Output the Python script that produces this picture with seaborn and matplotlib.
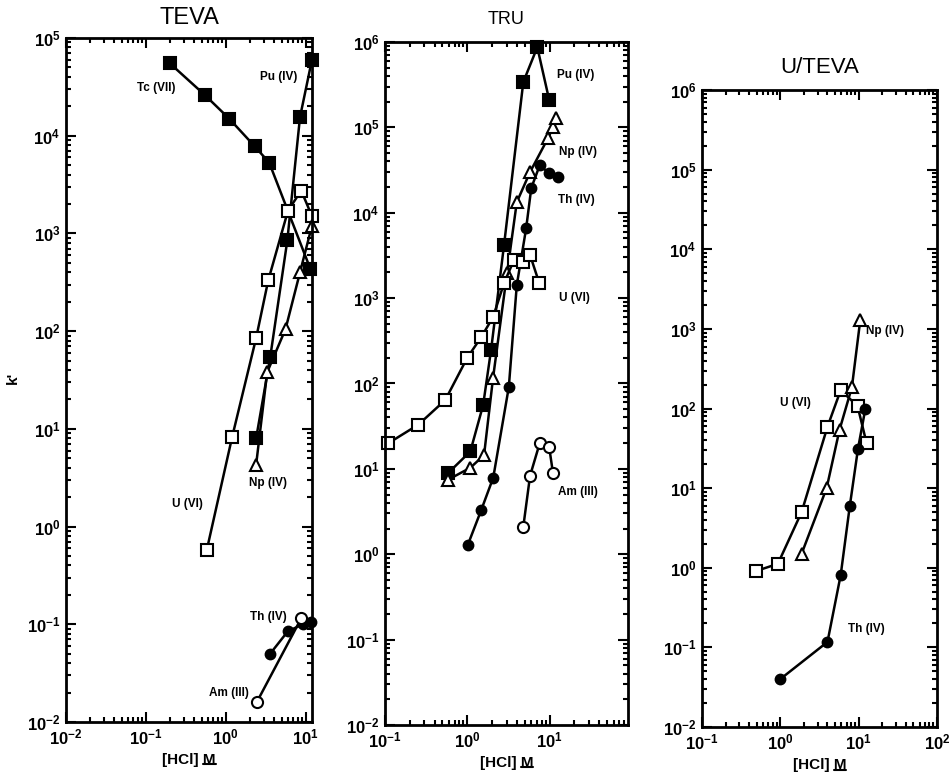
import numpy as np
import pandas as pd
import matplotlib
matplotlib.use("Agg")
import matplotlib.pyplot as plt
import matplotlib.ticker as mticker
from matplotlib.lines import Line2D
import seaborn as sns

# ---------------- data ----------------
# TEVA
teva_tc_x = [0.2, 0.55, 1.1, 2.3, 3.5, 11.5]
teva_tc_y = [55000, 26000, 15000, 7800, 5300, 430]
teva_pu_x = [2.4, 3.6, 5.9, 8.5, 12.0]
teva_pu_y = [8, 54, 850, 15500, 60000]
teva_u_x = [0.58, 1.2, 2.4, 3.4, 6.0, 8.8, 12.0]
teva_u_y = [0.58, 8.2, 85, 330, 1700, 2750, 1500]
teva_np_x = [2.4, 3.3, 5.6, 8.5, 12.0]
teva_np_y = [4.3, 38, 105, 400, 1200]
teva_th_x = [3.6, 6.0, 9.3, 11.8]
teva_th_y = [0.05, 0.085, 0.1, 0.105]
teva_am_x = [2.45, 8.8]
teva_am_y = [0.016, 0.115]

# TRU
tru_pu_x = [0.59, 1.09, 1.56, 1.95, 2.8, 4.8, 7.1, 9.9]
tru_pu_y = [9, 16, 56, 250, 4200, 340000, 870000, 210000]
tru_np_x = [0.59, 1.09, 1.6, 2.06, 3.05, 4.0, 5.8, 9.6, 11.0, 12.0]
tru_np_y = [7.5, 10.3, 14.5, 117, 1980, 13300, 30000, 75000, 100000, 130000]
tru_th_x = [1.02, 1.48, 2.07, 3.2, 4.0, 5.2, 6.0, 7.6, 9.9, 12.7]
tru_th_y = [1.3, 3.3, 7.9, 91, 1420, 6600, 19500, 36000, 29000, 26000]
tru_u_x = [0.11, 0.255, 0.54, 1.0, 1.48, 2.06, 2.8, 3.7, 4.8, 5.8, 7.5]
tru_u_y = [20, 33, 64, 200, 350, 600, 1500, 2800, 2650, 3200, 1500]
tru_am_x = [4.8, 5.8, 7.6, 9.9, 11.0]
tru_am_y = [2.1, 8.3, 20, 18, 9]

# U/TEVA
ut_u_x = [0.49, 0.93, 1.87, 4.0, 5.9, 9.7, 12.6]
ut_u_y = [0.91, 1.12, 5, 59, 170, 107, 37]
ut_np_x = [1.87, 3.9, 5.7, 8.2, 10.5]
ut_np_y = [1.5, 10, 54, 185, 1300]
ut_th_x = [1.0, 4.0, 5.9, 7.7, 9.8, 12.2]
ut_th_y = [0.04, 0.117, 0.81, 5.9, 31, 100]

panel_titles = ["TEVA", "TRU", "U/TEVA"]
x_label = "[HCl] M"
y_label = "k'"

# ---------------- style ----------------
sns.set_style("ticks")
plt.rcParams['font.family'] = ['Liberation Sans', 'DejaVu Sans']
plt.rcParams['font.weight'] = 'bold'
plt.rcParams['mathtext.fontset'] = 'custom'
plt.rcParams['mathtext.rm'] = 'Liberation Sans:bold'
plt.rcParams['mathtext.it'] = 'Liberation Sans:bold'
plt.rcParams['mathtext.bf'] = 'Liberation Sans:bold'
plt.rcParams['mathtext.default'] = 'rm'
for k in ('text.color', 'axes.labelcolor', 'xtick.color', 'ytick.color', 'axes.edgecolor'):
    plt.rcParams[k] = 'black'

fig = plt.figure(figsize=(9.52, 7.84), dpi=100)
fig.patch.set_facecolor('white')

ax1 = fig.add_axes([0.0693, 0.0791, 0.2584, 0.8724])
ax2 = fig.add_axes([0.4044, 0.0753, 0.2553, 0.8711])
ax3 = fig.add_axes([0.7374, 0.0727, 0.2468, 0.8125])


def series(ax, x, y, marker, filled, ms):
    df = pd.DataFrame({"x": x, "y": y})
    sns.lineplot(data=df, x="x", y="y", ax=ax, color="black", lw=1.8,
                 marker=marker, markersize=ms,
                 markerfacecolor=("black" if filled else "white"),
                 markeredgecolor="black", markeredgewidth=1.5,
                 sort=False, estimator=None, clip_on=False)


def log_ticks(lo, hi):
    e0, e1 = int(np.floor(np.log10(lo))), int(np.ceil(np.log10(hi)))
    major = [10.0 ** e for e in range(e0, e1 + 1) if lo * 0.999 <= 10.0 ** e <= hi * 1.001]
    minor = [m * 10.0 ** e for e in range(e0, e1 + 1) for m in range(2, 10)
             if lo < m * 10.0 ** e < hi]
    return major, minor


def style_axis(ax, xlim, ylim):
    ax.set_xscale('log')
    ax.set_yscale('log')
    ax.set_xlim(*xlim)
    ax.set_ylim(*ylim)
    for s in ax.spines.values():
        s.set_linewidth(2.0)
        s.set_color('black')
    xmaj, xmin = log_ticks(*xlim)
    ymaj, ymin = log_ticks(*ylim)
    ax.xaxis.set_major_locator(mticker.FixedLocator(xmaj))
    ax.yaxis.set_major_locator(mticker.FixedLocator(ymaj))
    ax.xaxis.set_minor_locator(mticker.FixedLocator(xmin))
    ax.yaxis.set_minor_locator(mticker.FixedLocator(ymin))
    ax.xaxis.set_major_formatter(mticker.LogFormatterSciNotation())
    ax.yaxis.set_major_formatter(mticker.LogFormatterSciNotation())
    ax.xaxis.set_minor_formatter(mticker.NullFormatter())
    ax.yaxis.set_minor_formatter(mticker.NullFormatter())
    ax.tick_params(which='both', direction='in', top=True, right=True, width=1.5, colors='black')
    ax.tick_params(which='major', length=7, labelsize=12, pad=4)
    ax.tick_params(which='minor', length=3.5)
    ax.set_xlabel("")
    ax.set_ylabel("")


# Panel 1: TEVA
series(ax1, teva_tc_x, teva_tc_y, 's', True, 9)
series(ax1, teva_pu_x, teva_pu_y, 's', True, 9)
series(ax1, teva_u_x, teva_u_y, 's', False, 9)
series(ax1, teva_np_x, teva_np_y, '^', False, 8)
series(ax1, teva_th_x, teva_th_y, 'o', True, 7)
series(ax1, teva_am_x, teva_am_y, 'o', False, 8)
style_axis(ax1, (0.01, 12), (0.01, 1e5))
lbl = dict(fontsize=8.5, fontweight='bold', ha='center', va='center', color='black')
ax1.text(0.135, 31000, "Tc (VII)", **lbl)
ax1.text(4.6, 40000, "Pu (IV)", **lbl)
ax1.text(0.33, 1.7, "U (VI)", **lbl)
ax1.text(3.4, 2.8, "Np (IV)", **lbl)
ax1.text(3.4, 0.118, "Th (IV)", **lbl)
ax1.text(1.1, 0.02, "Am (III)", **lbl)

# Panel 2: TRU
series(ax2, tru_pu_x, tru_pu_y, 's', True, 8)
series(ax2, tru_np_x, tru_np_y, '^', False, 8)
series(ax2, tru_th_x, tru_th_y, 'o', True, 7)
series(ax2, tru_u_x, tru_u_y, 's', False, 9)
series(ax2, tru_am_x, tru_am_y, 'o', False, 8)
style_axis(ax2, (0.1, 90), (0.01, 1e6))
ax2.text(21, 410000, "Pu (IV)", **lbl)
ax2.text(22, 51000, "Np (IV)", **lbl)
ax2.text(21, 14000, "Th (IV)", **lbl)
ax2.text(20, 1000, "U (VI)", **lbl)
ax2.text(22, 5.4, "Am (III)", **lbl)

# Panel 3: U/TEVA
series(ax3, ut_u_x, ut_u_y, 's', False, 9)
series(ax3, ut_np_x, ut_np_y, '^', False, 8)
series(ax3, ut_th_x, ut_th_y, 'o', True, 7)
style_axis(ax3, (0.1, 100), (0.01, 1e6))
ax3.text(22, 950, "Np (IV)", **lbl)
ax3.text(1.58, 117, "U (VI)", **lbl)
ax3.text(12.5, 0.17, "Th (IV)", **lbl)

# titles
ax1.set_title(panel_titles[0], fontsize=17, fontweight='normal', pad=10, color='black')
ax2.set_title(panel_titles[1], fontsize=13, fontweight='normal', pad=13, color='black')
ax3.set_title(panel_titles[2], fontsize=16, fontweight='normal', pad=12, color='black')

# axis labels
xlabels = []
for ax in (ax1, ax2, ax3):
    xlabels.append(ax.set_xlabel(x_label, fontsize=11, fontweight='bold', labelpad=4, color='black'))
fig.text(0.013, 0.518, y_label, rotation=90, fontsize=11, fontweight='bold', ha='center', va='center')

# underline the "M" of each x label
fig.canvas.draw()
renderer = fig.canvas.get_renderer()
for t in xlabels:
    bb = t.get_window_extent(renderer)
    mw = 11 * 0.83 * 100 / 72.0
    x0 = (bb.x1 - mw) / fig.bbox.width
    x1 = bb.x1 / fig.bbox.width
    yy = (bb.y0 + 2.5) / fig.bbox.height
    fig.add_artist(Line2D([x0, x1], [yy, yy], color='black', lw=1.5, transform=fig.transFigure))

fig.savefig("out.png", dpi=100, facecolor='white')
